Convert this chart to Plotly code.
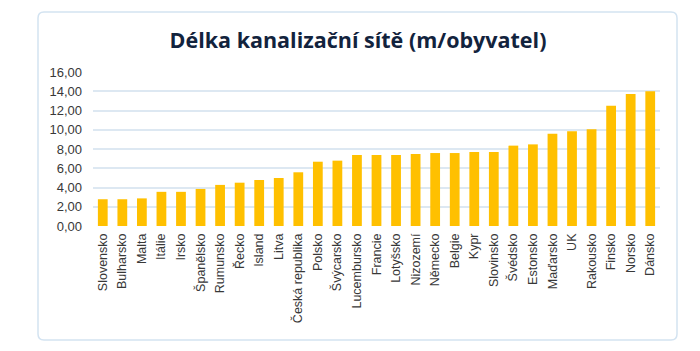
import plotly.graph_objects as go

countries = ["Slovensko", "Bulharsko", "Malta", "Itálie", "Irsko", "Španělsko", "Rumunsko",
             "Řecko", "Island", "Litva", "Česká republika", "Polsko", "Švýcarsko",
             "Lucembursko", "Francie", "Lotyšsko", "Nizozemí", "Německo", "Belgie", "Kypr",
             "Slovinsko", "Švédsko", "Estonsko", "Maďarsko", "UK", "Rakousko", "Finsko",
             "Norsko", "Dánsko"]
values = [2.78, 2.78, 2.87, 3.55, 3.55, 3.85, 4.27, 4.5, 4.78, 4.99, 5.58, 6.68, 6.79,
          7.38, 7.38, 7.38, 7.48, 7.58, 7.58, 7.69, 7.69, 8.35, 8.48, 9.59, 9.84, 10.04,
          12.5, 13.71, 14.0]
y_ticks = [0, 2, 4, 6, 8, 10, 12, 14, 16]
title = "Délka kanalizační sítě (m/obyvatel)"

W, H = 700, 351
L, R, T, B = 93, 40, 72, 125
pw, ph = W - L - R, H - T - B

fig = go.Figure(go.Bar(x=countries, y=values, marker=dict(color="#FFC000", line=dict(width=0))))

def px_to_paper_x(px):
    return (px - L) / pw

def py_to_paper_y(py):
    return (H - B - py) / ph

x0, x1 = px_to_paper_x(38), px_to_paper_x(677)
y0, y1 = py_to_paper_y(340), py_to_paper_y(12)
rx, ry = 6 / pw, 6 / ph
path = (f"M {x0+rx},{y0} L {x1-rx},{y0} Q {x1},{y0} {x1},{y0+ry} "
        f"L {x1},{y1-ry} Q {x1},{y1} {x1-rx},{y1} L {x0+rx},{y1} Q {x0},{y1} {x0},{y1-ry} "
        f"L {x0},{y0+ry} Q {x0},{y0} {x0+rx},{y0} Z")
fig.add_shape(type="path", path=path, xref="paper", yref="paper",
              line=dict(color="#d3e3f1", width=1.5), fillcolor="rgba(0,0,0,0)", layer="below")

fig.update_layout(
    width=W, height=H,
    margin=dict(l=L, r=R, t=T, b=B, autoexpand=False),
    paper_bgcolor="white", plot_bgcolor="white",
    separators=", ",
    bargap=0.5,
    showlegend=False,
    title=dict(text=f"<b>{title}</b>", x=px_to_paper_x(358), xref="paper", xanchor="center",
               y=1 - 40 / H, yanchor="middle",
               font=dict(family="Open Sans", size=21.5, color="#12233d")),
    font=dict(family="Liberation Sans", size=12.5, color="#383838"),
)
fig.update_yaxes(range=[0, 16], tickvals=y_ticks, tickformat=".2f",
                 showgrid=True, gridcolor="#dde8f2", gridwidth=1.5, zeroline=False,
                 showline=False, ticks="", ticklabelstandoff=10,
                 tickfont=dict(family="Liberation Sans", size=13, color="#383838"))
fig.update_xaxes(tickangle=-90, showgrid=False, showline=False, ticks="",
                 ticklabelstandoff=4, automargin=False,
                 tickfont=dict(family="Liberation Sans", size=12.5, color="#383838"))

fig.write_html("out.html")
